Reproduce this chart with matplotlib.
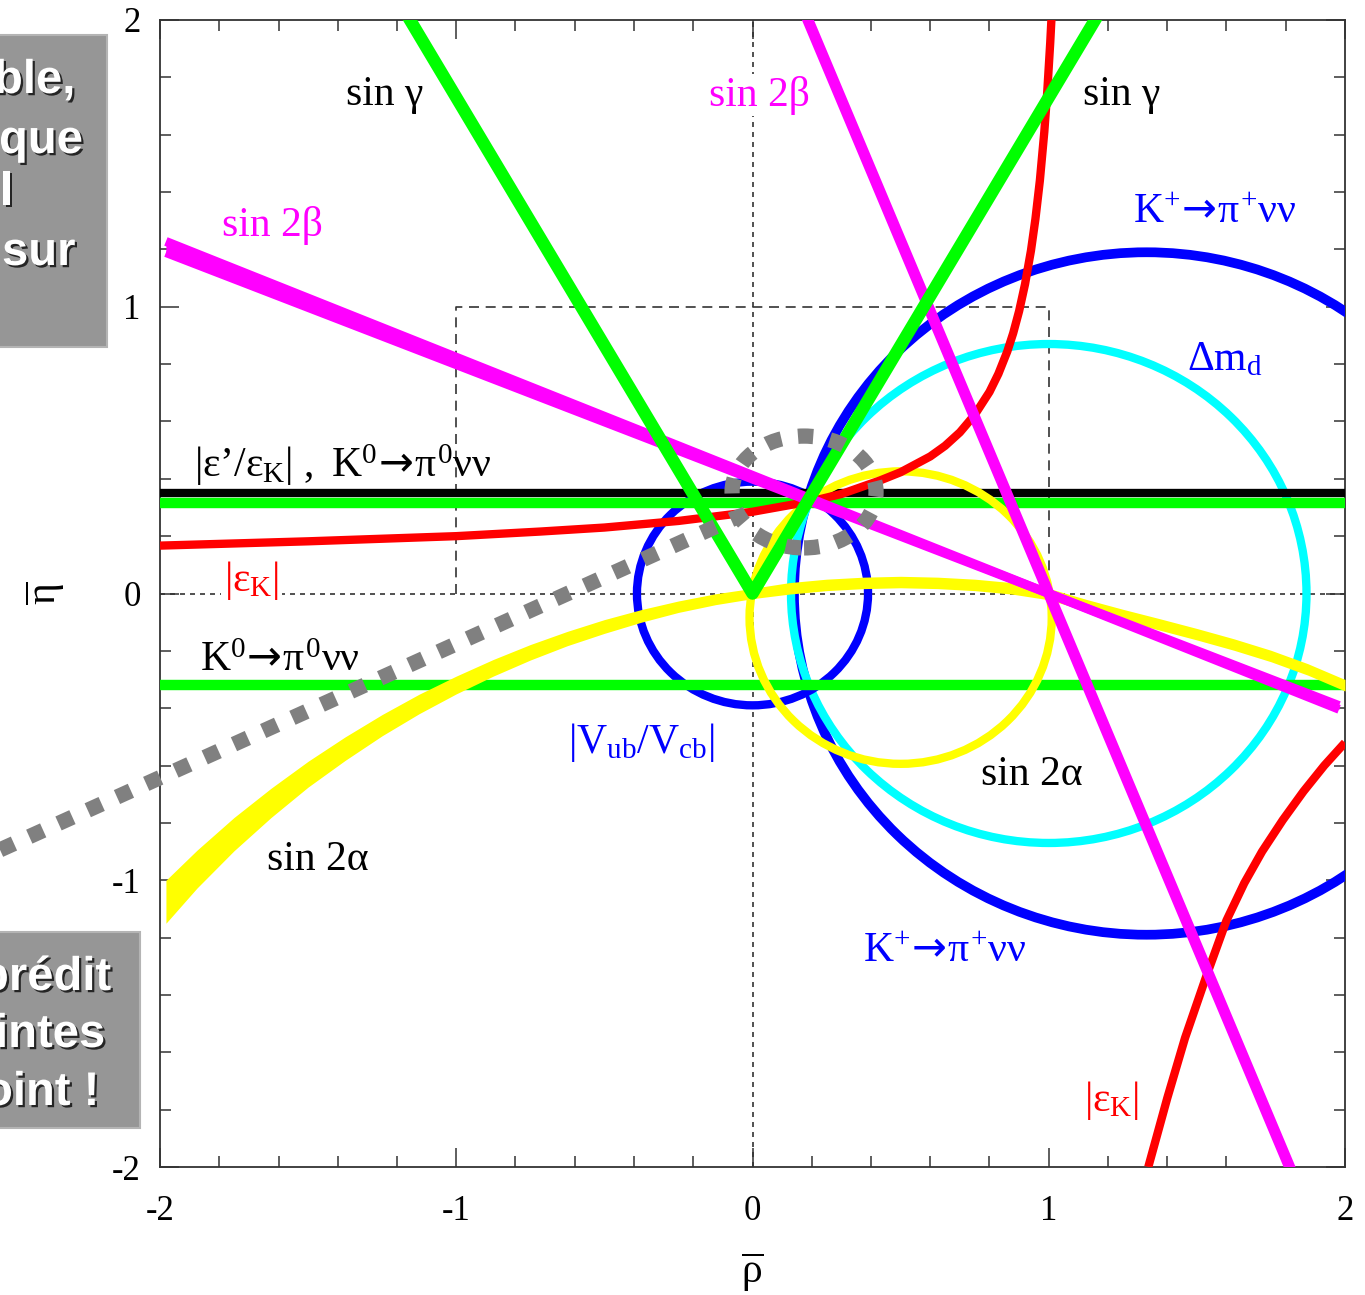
import matplotlib
matplotlib.use('Agg')
import matplotlib.pyplot as plt
import numpy as np
from matplotlib.patches import Circle, Ellipse, Rectangle
import matplotlib.patheffects as pe

plt.rcParams['font.family'] = ['Liberation Serif', 'DejaVu Serif']
plt.rcParams['mathtext.fontset'] = 'custom'
plt.rcParams['mathtext.rm'] = 'Liberation Serif'
plt.rcParams['mathtext.it'] = 'Liberation Serif'
plt.rcParams['mathtext.bf'] = 'Liberation Serif:bold'
plt.rcParams['mathtext.sf'] = 'DejaVu Sans'
plt.rcParams['axes.unicode_minus'] = False

# ---------------- data ----------------
x_ticks = [-2, -1, 0, 1, 2]
y_ticks = [-2, -1, 0, 1, 2]
x_tick_labels = ['-2', '-1', '0', '1', '2']
y_tick_labels = ['-2', '-1', '0', '1', '2']

# sin gamma : two lines from the origin
gamma_slope = 1.73
# sin 2beta : lines through (1, 0)
beta_pivot = (1.0, 0.0)
beta_shallow_slopes = [-0.399, -0.412]
beta_steep_slope = -2.46
# |eps'/eps_K| and K0 -> pi0 nu nu horizontal bands
eps_prime_eta = 0.351
k0_eta = [0.317, -0.319]
# circles
vub_center, vub_radius = (0.0, 0.0), 0.39
dmd_center, dmd_radius = (1.0, 0.0), 0.87
kplus_center, kplus_radius = (1.33, 0.0), 1.19
alpha_small_center, alpha_small_radius = (0.5, -0.084), 0.51
# |eps_K| hyperbola, upper branch
epsk_rho = [-2.0, -1.5, -1.0, -0.717, -0.5, -0.25, 0.0, 0.2, 0.3, 0.43, 0.5, 0.6, 0.65, 0.7,
            0.75, 0.8, 0.83, 0.86, 0.88, 0.9, 0.92, 0.94, 0.955, 0.97, 0.985, 0.995, 1.005, 1.012]
epsk_eta = [0.167, 0.182, 0.200, 0.216, 0.230, 0.253, 0.285, 0.322, 0.347, 0.394, 0.423, 0.478, 0.515, 0.562,
            0.623, 0.703, 0.766, 0.844, 0.908, 0.985, 1.079, 1.196, 1.306, 1.440, 1.610, 1.751, 1.921, 2.062]
# |eps_K| lower-right branch
epsk2_rho = [1.336, 1.40, 1.46, 1.53, 1.60, 1.66, 1.72, 1.79, 1.86, 1.93, 2.0]
epsk2_eta = [-2.0, -1.76, -1.55, -1.34, -1.14, -1.01, -0.90, -0.79, -0.69, -0.60, -0.52]
# sin 2alpha wide band (upper / lower edges)
alpha_rho = [-1.98, -1.875, -1.75, -1.625, -1.5, -1.375, -1.25, -1.125, -1.0, -0.875, -0.75,
             -0.625, -0.5, -0.375, -0.25, -0.125, 0.0, 0.125, 0.25, 0.375, 0.5, 0.625, 0.75,
             0.875, 1.0, 1.125, 1.25, 1.375, 1.5, 1.625, 1.75, 1.875, 2.0]
alpha_upper = [-1.000, -0.895, -0.781, -0.679, -0.585, -0.500, -0.422, -0.351, -0.288, -0.230, -0.178,
               -0.132, -0.091, -0.056, -0.026, -0.001, 0.018, 0.038, 0.050, 0.057, 0.060, 0.057, 0.050,
               0.038, 0.018, -0.020, -0.055, -0.088, -0.122, -0.158, -0.198, -0.245, -0.300]
alpha_lower = [-1.150, -1.027, -0.897, -0.781, -0.675, -0.582, -0.496, -0.419, -0.350, -0.288, -0.232,
               -0.182, -0.139, -0.100, -0.066, -0.039, -0.018, -0.002, 0.010, 0.017, 0.020, 0.017, 0.010,
               -0.002, -0.022, -0.060, -0.095, -0.128, -0.162, -0.198, -0.238, -0.285, -0.340]
# grey "zoom" ellipse and pointer
zoom_center = (0.174, 0.354)
zoom_width, zoom_height = 0.486, 0.39
pointer_rho = [-2.54, -0.06]
pointer_eta = [-0.894, 0.263]
# dashed box
box_rho = [-1, -1, 1, 1]
box_eta = [0, 1, 1, 0]

# ---------------- figure ----------------
W, H = 1365, 1295
fig = plt.figure(figsize=(W / 100, H / 100), dpi=100)
ax = fig.add_axes([160 / W, 1 - 1167 / H, 1185 / W, 1147 / H])
ax.set_xlim(-2, 2)
ax.set_ylim(-2, 2)

BLUE = '#0000ff'
MAG = '#ff00ff'
GREEN = '#00ff00'
CYAN = '#00ffff'
YEL = '#ffff00'
RED = '#ff0000'
GREY = '#808080'

# reference lines
ax.axhline(0, color='#333333', lw=1.2, ls=(0, (3, 3)), zorder=1)
ax.axvline(0, color='#333333', lw=1.2, ls=(0, (3, 3)), zorder=1)
ax.plot(box_rho, box_eta, color='#333333', lw=1.2, ls=(0, (6, 4)), zorder=1)

# circles
ax.add_patch(Circle(kplus_center, kplus_radius, fill=False, ec=BLUE, lw=7, zorder=3))
ax.add_patch(Circle(dmd_center, dmd_radius, fill=False, ec=CYAN, lw=6, zorder=3))
ax.add_patch(Circle(vub_center, vub_radius, fill=False, ec=BLUE, lw=6, zorder=3))

# horizontal bands
ax.axhline(eps_prime_eta, color='black', lw=6, zorder=4)
for e in k0_eta:
    ax.axhline(e, color=GREEN, lw=7.5, zorder=4)

# sin 2 alpha
ax.fill_between(alpha_rho, alpha_lower, alpha_upper, color=YEL, lw=0, zorder=5)
ax.add_patch(Circle(alpha_small_center, alpha_small_radius, fill=False, ec=YEL, lw=6, zorder=5))

# eps_K
ax.plot(epsk_rho, epsk_eta, color=RED, lw=6, zorder=6, solid_capstyle='butt', solid_joinstyle='round')
ax.plot(epsk2_rho, epsk2_eta, color=RED, lw=6, zorder=6, solid_capstyle='butt', solid_joinstyle='round')

# sin 2 beta
rr = np.array([-1.98, 1.98])
b_edges = [beta_pivot[1] + s * (rr - beta_pivot[0]) for s in beta_shallow_slopes]
ax.fill_between(rr, b_edges[0], b_edges[1], color=MAG, lw=0, zorder=7)
for be in b_edges:
    ax.plot(rr, be, color=MAG, lw=6.5, zorder=7, solid_capstyle='butt')
rs = np.array([0.05, 1.95])
ax.plot(rs, beta_pivot[1] + beta_steep_slope * (rs - beta_pivot[0]), color=MAG, lw=8, zorder=7)

# sin gamma
top = 2.2 / gamma_slope
ax.plot([-top, 0, top], [2.2, 0, 2.2], color=GREEN, lw=9, zorder=8,
        solid_joinstyle='round')

# grey ellipse and pointer
ax.add_patch(Ellipse(zoom_center, zoom_width, zoom_height, fill=False, ec=GREY, lw=11,
                     ls=(0, (1.0, 1.1)), capstyle='butt', zorder=9))
ax.plot(pointer_rho, pointer_eta, color=GREY, lw=11, ls=(0, (1.0, 1.1)),
        solid_capstyle='butt', dash_capstyle='butt', zorder=9, clip_on=False)

# ticks
ax.set_xticks(x_ticks)
ax.set_xticklabels(x_tick_labels)
ax.set_yticks(y_ticks)
ax.set_yticklabels(y_tick_labels)
ax.set_xticks(np.arange(-2, 2.001, 0.2), minor=True)
ax.set_yticks(np.arange(-2, 2.001, 0.2), minor=True)
ax.tick_params(which='both', direction='in', top=True, right=True, width=1.1, color='#333333')
ax.tick_params(which='major', length=14)
ax.tick_params(which='minor', length=8)
ax.tick_params(axis='x', which='major', labelsize=25, pad=20)
ax.tick_params(axis='y', which='major', labelsize=25, pad=14)
for sp in ax.spines.values():
    sp.set_linewidth(1.3)
    sp.set_color('#333333')

# axis labels
ax.text(0.5, -0.092, r'$\overline{\rho}$', transform=ax.transAxes, ha='center', va='center', fontsize=30)
ax.text(-0.097, 0.5, r'$\overline{\eta}$', transform=ax.transAxes, ha='center', va='center',
        fontsize=30, rotation=90)

# annotations
fs = 30
ARROW = r'\!\mathsf{\rightarrow}\!'
kplus = r'$\mathrm{K}^{+}' + ARROW + r'\pi^{+}\nu\nu$'
kzero = r'$\mathrm{K}^{0}' + ARROW + r'\pi^{0}\nu\nu$'
ax.text(-1.24, 1.738, 'sin γ', color='black', fontsize=fs, ha='center', va='center', zorder=12)
ax.text(1.247, 1.738, 'sin γ', color='black', fontsize=fs, ha='center', va='center', zorder=12)
ax.text(0.025, 1.738, 'sin 2β', color=MAG, fontsize=fs, ha='center', va='center', zorder=12,
        bbox=dict(facecolor='white', edgecolor='none', pad=1))
ax.text(-1.622, 1.285, 'sin 2β', color=MAG, fontsize=fs, ha='center', va='center', zorder=12)
ax.text(1.561, 1.327, kplus, color=BLUE, fontsize=fs, ha='center', va='center', zorder=12)
ax.text(0.65, -1.25, kplus, color=BLUE, fontsize=fs, ha='center', va='center', zorder=12)
ax.text(1.595, 0.814, r'$\Delta\mathrm{m}_{\mathrm{d}}$', color=BLUE, fontsize=fs,
        ha='center', va='center', zorder=12)
ax.text(-1.385, 0.448, r"$|\varepsilon’/\varepsilon_{\mathrm{K}}|\ ,\ \mathrm{K}^{0}" + ARROW + r"\pi^{0}\nu\nu$",
        color='black', fontsize=fs, ha='center', va='center', zorder=12)
ax.text(-1.69, 0.047, r'$|\varepsilon_{\mathrm{K}}|$', color=RED, fontsize=fs, ha='center', va='center',
        zorder=12, bbox=dict(facecolor='white', edgecolor='none', pad=2))
ax.text(1.213, -1.767, r'$|\varepsilon_{\mathrm{K}}|$', color=RED, fontsize=fs, ha='center', va='center',
        zorder=12)
ax.text(-1.595, -0.233, kzero, color='black', fontsize=fs, ha='center', va='center', zorder=12)
ax.text(-0.376, -0.518, r'$|\mathrm{V}_{\mathrm{ub}}/\mathrm{V}_{\mathrm{cb}}|$', color=BLUE, fontsize=fs,
        ha='center', va='center', zorder=12)
ax.text(0.944, -0.633, 'sin 2α', color='black', fontsize=fs, ha='center', va='center', zorder=12)
ax.text(-1.466, -0.93, 'sin 2α', color='black', fontsize=fs, ha='center', va='center', zorder=12)

# grey comment boxes at the left edge
def fx(px):
    return px / W

def fy(py):
    return 1 - py / H

fig.patches.append(Rectangle((fx(-5), fy(347)), fx(112), (347 - 35) / H, transform=fig.transFigure,
                             facecolor='#969696', edgecolor='#b4b4b4', lw=1.5, zorder=20))
fig.patches.append(Rectangle((fx(-5), fy(1128)), fx(145), (1128 - 932) / H, transform=fig.transFigure,
                             facecolor='#969696', edgecolor='#b4b4b4', lw=1.5, zorder=20))

shadow = [pe.withSimplePatchShadow(offset=(1.6, -1.6), shadow_rgbFace='black', alpha=0.75)]
box_font = dict(family=['Liberation Sans', 'DejaVu Sans'], weight='bold', size=34, color='white',
                va='baseline', ha='left', zorder=21, path_effects=shadow)
for txt, xp, yp in [('ble,', -6, 93), ('que', -1, 153), ('l', 0, 205), ('sur', 2, 265),
                    ('prédit', -20, 990), ('intes', -5, 1047), ('oint !', -16, 1105)]:
    fig.text(fx(xp), fy(yp), txt, **box_font)

fig.savefig('out.png', dpi=100)
